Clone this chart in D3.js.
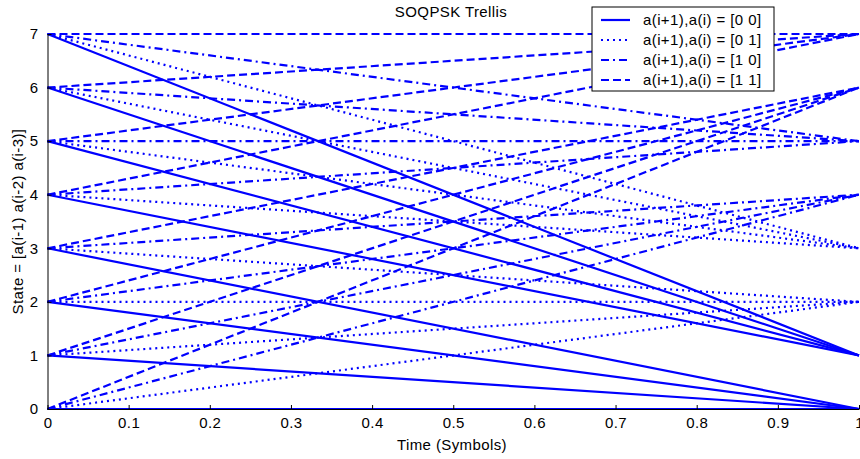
<!DOCTYPE html>
<html lang="en">
<head>
<meta charset="UTF-8">
<title>SOQPSK Trellis</title>
<script src="https://cdnjs.cloudflare.com/ajax/libs/d3/7.8.5/d3.min.js"></script>
<style>
  body { margin: 0; background: #fff; font-family: "Liberation Sans", Arial, sans-serif; }
  svg text { font-size: 15px; letter-spacing: 0.4px; fill: #000; }
</style>
</head>
<body>
<div id="chart"></div>
<script>
// Trellis data: 8 states, 4 input pairs
const states = [0, 1, 2, 3, 4, 5, 6, 7];
const inputs = ["[0 0]", "[0 1]", "[1 0]", "[1 1]"];
const inputBase = [0, 2, 4, 6];           // a(i+1),a(i) contribution to next state
const xTicks = [0, 0.1, 0.2, 0.3, 0.4, 0.5, 0.6, 0.7, 0.8, 0.9, 1];
const yTicks = [0, 1, 2, 3, 4, 5, 6, 7];
const dashes = [null, "2,4", "8,4,2,4", "8,4"];

const width = 860, height = 459;
const margin = { left: 47.5, right: 1, top: 34, bottom: 50 };

const svg = d3.select("#chart").append("svg")
  .attr("width", width).attr("height", height);

const x = d3.scaleLinear().domain([0, 1]).range([margin.left, width - margin.right]);
const y = d3.scaleLinear().domain([0, 7]).range([height - margin.bottom, margin.top]);

// transitions: next = base + a(i-1), a(i-1) = state >> 2
const edges = [];
states.forEach(s => {
  inputs.forEach((inp, k) => {
    edges.push({ from: s, to: inputBase[k] + (s >> 2), k });
  });
});

svg.append("g").selectAll("line").data(edges).join("line")
  .attr("x1", x(0)).attr("x2", x(1))
  .attr("y1", d => y(d.from)).attr("y2", d => y(d.to))
  .attr("stroke", "#0000ff").attr("stroke-width", 2.2)
  .attr("stroke-dasharray", d => dashes[d.k]);

// axes
const xAxis = svg.append("g")
  .attr("transform", `translate(0,${y(0)})`)
  .call(d3.axisBottom(x).tickValues(xTicks).tickFormat(d3.format("")).tickSizeInner(-4).tickSizeOuter(0).tickPadding(8));
const yAxis = svg.append("g")
  .attr("transform", `translate(${x(0)},0)`)
  .call(d3.axisLeft(y).tickValues(yTicks).tickFormat(d3.format("d")).tickSizeInner(-4).tickSizeOuter(0).tickPadding(9));
[xAxis, yAxis].forEach(g => {
  g.select(".domain").attr("stroke", "#000");
  g.selectAll(".tick line").attr("stroke", "#000");
  g.selectAll(".tick text").style("font-size", "15px").attr("fill", "#000")
    .style("font-family", "'Liberation Sans', Arial, sans-serif");
});

// title and labels
svg.append("text").attr("x", 451).attr("y", 17).attr("text-anchor", "middle").text("SOQPSK Trellis");
svg.append("text").attr("x", 452).attr("y", 450).attr("text-anchor", "middle").text("Time (Symbols)");
svg.append("text").attr("transform", `translate(23,${y(3.5)}) rotate(-90)`)
  .attr("text-anchor", "middle").text("State = [a(i-1) a(i-2) a(i-3)]");

// legend
const lg = svg.append("g").attr("transform", "translate(592,7)");
lg.append("rect").attr("width", 182).attr("height", 84)
  .attr("fill", "#fff").attr("stroke", "#000").attr("stroke-width", 1);
inputs.forEach((inp, k) => {
  const yy = 13 + k * 20;
  lg.append("line").attr("x1", 9).attr("x2", 38).attr("y1", yy).attr("y2", yy)
    .attr("stroke", "#0000ff").attr("stroke-width", 2.2)
    .attr("stroke-dasharray", dashes[k]);
  lg.append("text").attr("x", 51).attr("y", yy + 5).text(`a(i+1),a(i) = ${inp}`);
});
</script>
</body>
</html>
